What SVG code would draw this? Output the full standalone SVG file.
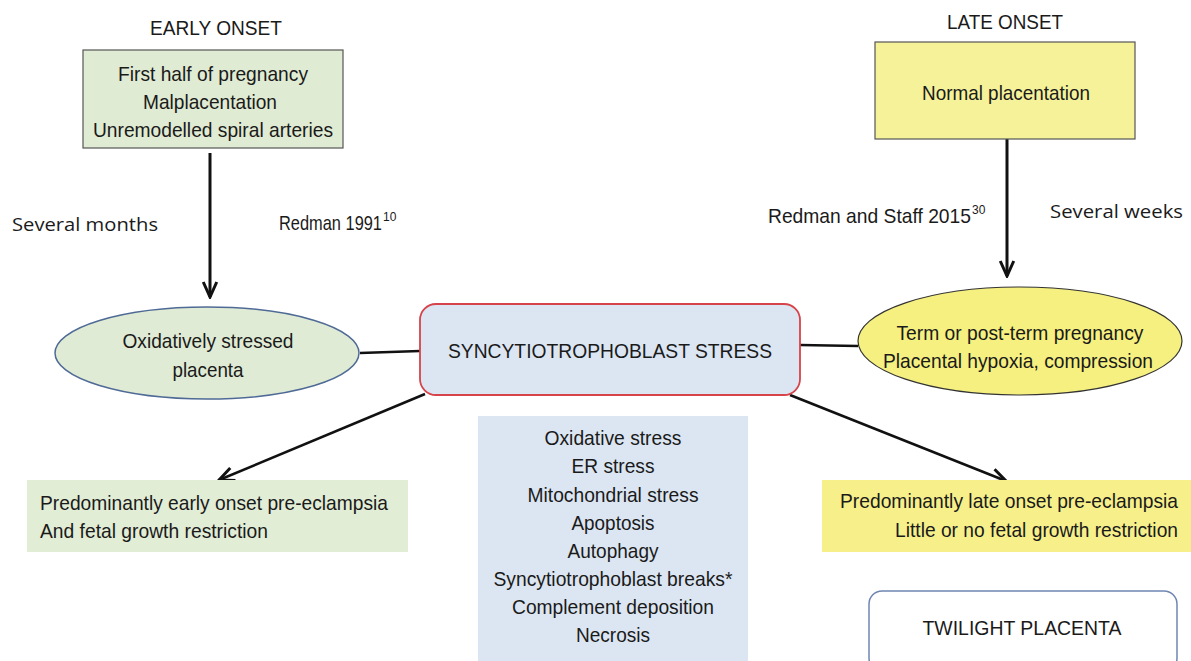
<svg xmlns="http://www.w3.org/2000/svg" width="1191" height="661" viewBox="0 0 1191 661">
<style>
  .t { font-family: "Liberation Sans", Arial, sans-serif; font-size: 21px; fill: #1a1a1a; }
  .c { text-anchor: middle; }
  .r { text-anchor: end; }
  .h { font-family: "Open Sans", "Noto Sans", sans-serif; font-size: 18px; fill: #1a1a1a; }
  .sup { font-family: "Liberation Sans", Arial, sans-serif; font-size: 12px; fill: #1a1a1a; }
  .conn { stroke: #111; fill: none; }
</style>
<defs>
  <marker id="ah" viewBox="0 0 12 12" refX="11" refY="6" markerWidth="18" markerHeight="18" markerUnits="userSpaceOnUse" orient="auto">
    <path d="M1,1.5 L11,6 L1,10.5" fill="none" stroke="#111" stroke-width="2"/>
  </marker>
</defs>
<rect width="1191" height="661" fill="#ffffff"/>

<g id="labels">
  <text class="t c" x="216" y="35" textLength="132" lengthAdjust="spacingAndGlyphs">EARLY ONSET</text>
  <text class="t c" x="1005" y="29" textLength="116" lengthAdjust="spacingAndGlyphs">LATE ONSET</text>
  <text class="h" x="12" y="231" textLength="146" lengthAdjust="spacingAndGlyphs">Several months</text>
  <text class="h" x="1050" y="218" textLength="133" lengthAdjust="spacingAndGlyphs">Several weeks</text>
  <text class="t" x="279" y="230" textLength="103" lengthAdjust="spacingAndGlyphs">Redman 1991</text>
  <text class="sup" x="383" y="221">10</text>
  <text class="t" x="768" y="223" textLength="203" lengthAdjust="spacingAndGlyphs">Redman and Staff 2015</text>
  <text class="sup" x="972" y="214">30</text>
</g>

<g id="connectors">
  <line class="conn" x1="210" y1="153" x2="210" y2="297" stroke-width="3" marker-end="url(#ah)"/>
  <line class="conn" x1="1007" y1="139" x2="1007" y2="276" stroke-width="3" marker-end="url(#ah)"/>
  <line class="conn" x1="360" y1="353" x2="420" y2="351" stroke-width="2.5"/>
  <line class="conn" x1="800" y1="345" x2="858" y2="346" stroke-width="2.5"/>
  <line class="conn" x1="425" y1="394" x2="219" y2="480" stroke-width="2.5" marker-end="url(#ah)"/>
  <line class="conn" x1="790" y1="395" x2="1006" y2="481" stroke-width="2.5" marker-end="url(#ah)"/>
</g>

<g id="early-box">
  <rect x="83" y="50" width="260" height="98" fill="#e0ebd3" stroke="#555" stroke-width="1.2"/>
  <text class="t c" x="213" y="81" textLength="190" lengthAdjust="spacingAndGlyphs">First half of pregnancy</text>
  <text class="t c" x="210" y="109" textLength="134" lengthAdjust="spacingAndGlyphs">Malplacentation</text>
  <text class="t c" x="213" y="137" textLength="240" lengthAdjust="spacingAndGlyphs">Unremodelled spiral arteries</text>
</g>

<g id="late-box">
  <rect x="875" y="42" width="260" height="97" fill="#f5f29a" stroke="#555" stroke-width="1.2"/>
  <text class="t c" x="1006" y="100" textLength="168" lengthAdjust="spacingAndGlyphs">Normal placentation</text>
</g>

<g id="oxidative-ellipse">
  <ellipse cx="207" cy="353" rx="152" ry="46" fill="#dfebd4" stroke="#4f6a96" stroke-width="1.5"/>
  <text class="t c" x="208" y="348" textLength="171" lengthAdjust="spacingAndGlyphs">Oxidatively stressed</text>
  <text class="t c" x="208" y="377" textLength="71" lengthAdjust="spacingAndGlyphs">placenta</text>
</g>

<g id="sts-box">
  <rect x="420" y="304" width="380" height="91" rx="16" fill="#dce6f2" stroke="#d6434b" stroke-width="1.8"/>
  <text class="t c" x="610" y="358" textLength="324" lengthAdjust="spacingAndGlyphs">SYNCYTIOTROPHOBLAST STRESS</text>
</g>

<g id="term-ellipse">
  <ellipse cx="1020" cy="341" rx="162" ry="54" fill="#f5f07f" stroke="#333" stroke-width="1.2"/>
  <text class="t c" x="1020" y="340" textLength="247" lengthAdjust="spacingAndGlyphs">Term or post-term pregnancy</text>
  <text class="t c" x="1018" y="368" textLength="270" lengthAdjust="spacingAndGlyphs">Placental hypoxia, compression</text>
</g>

<g id="stress-list">
  <rect x="478" y="416" width="270" height="245" fill="#dce6f2"/>
  <text class="t c" x="613" y="445" textLength="137" lengthAdjust="spacingAndGlyphs">Oxidative stress</text>
  <text class="t c" x="613" y="473" textLength="83" lengthAdjust="spacingAndGlyphs">ER stress</text>
  <text class="t c" x="613" y="502" textLength="171" lengthAdjust="spacingAndGlyphs">Mitochondrial stress</text>
  <text class="t c" x="613" y="530" textLength="83" lengthAdjust="spacingAndGlyphs">Apoptosis</text>
  <text class="t c" x="613" y="558" textLength="91" lengthAdjust="spacingAndGlyphs">Autophagy</text>
  <text class="t c" x="613" y="586" textLength="239" lengthAdjust="spacingAndGlyphs">Syncytiotrophoblast breaks*</text>
  <text class="t c" x="613" y="614" textLength="202" lengthAdjust="spacingAndGlyphs">Complement deposition</text>
  <text class="t c" x="613" y="642" textLength="74" lengthAdjust="spacingAndGlyphs">Necrosis</text>
</g>

<g id="early-outcome">
  <rect x="27" y="480" width="381" height="72" fill="#e2edd6"/>
  <text class="t" x="40" y="510" textLength="348" lengthAdjust="spacingAndGlyphs">Predominantly early onset pre-eclampsia</text>
  <text class="t" x="40" y="538" textLength="228" lengthAdjust="spacingAndGlyphs">And fetal growth restriction</text>
</g>

<g id="late-outcome">
  <rect x="822" y="480" width="369" height="72" fill="#f7f08a"/>
  <text class="t r" x="1178" y="508" textLength="338" lengthAdjust="spacingAndGlyphs">Predominantly late onset pre-eclampsia</text>
  <text class="t r" x="1178" y="537" textLength="283" lengthAdjust="spacingAndGlyphs">Little or no fetal growth restriction</text>
</g>

<g id="twilight-box">
  <rect x="869" y="591" width="308" height="80" rx="13" fill="#ffffff" stroke="#6f86b3" stroke-width="1.5"/>
  <text class="t c" x="1022" y="635" textLength="199" lengthAdjust="spacingAndGlyphs">TWILIGHT PLACENTA</text>
</g>
</svg>
